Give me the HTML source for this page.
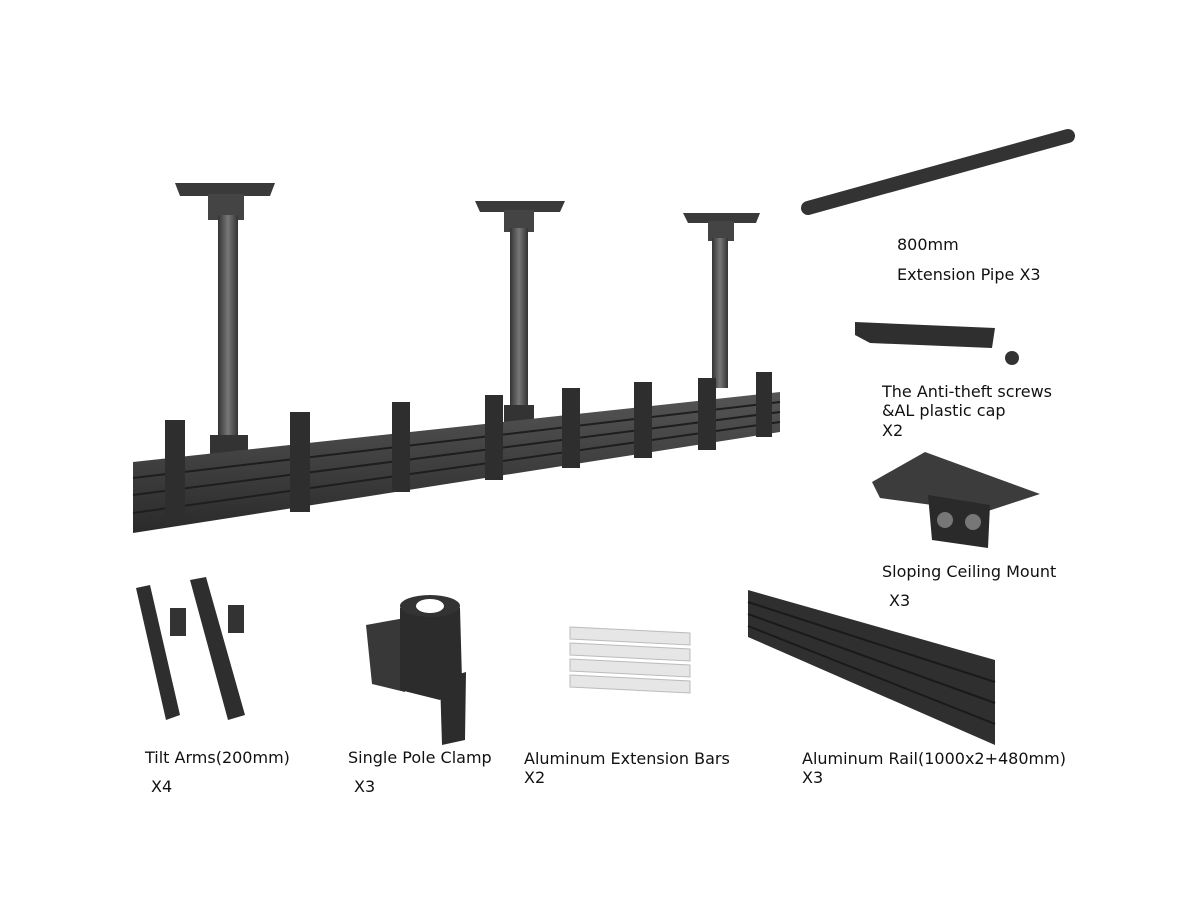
<!DOCTYPE html>
<html><head><meta charset="utf-8"><style>
html,body{margin:0;padding:0;background:#fff;width:1200px;height:900px;overflow:hidden}
svg text{font-family:"DejaVu Sans","Liberation Sans",sans-serif;font-size:16px;fill:#111}
</style></head><body>
<svg width="1200" height="900" viewBox="0 0 1200 900" xmlns="http://www.w3.org/2000/svg">
<defs>
<linearGradient id="g1" x1="0" y1="0" x2="0" y2="1"><stop offset="0" stop-color="#555"/><stop offset="1" stop-color="#2a2a2a"/></linearGradient>
<linearGradient id="gp" x1="0" y1="0" x2="1" y2="0"><stop offset="0" stop-color="#333"/><stop offset=".5" stop-color="#777"/><stop offset="1" stop-color="#333"/></linearGradient>
</defs>
<polygon points="175,183 275,183 270,196 180,196" fill="#3a3a3a"/>
<polygon points="475,201 565,201 560,212 480,212" fill="#3a3a3a"/>
<polygon points="683,213 760,213 756,223 688,223" fill="#3a3a3a"/>
<rect x="208" y="194" width="36" height="26" fill="#444"/>
<rect x="504" y="210" width="30" height="22" fill="#444"/>
<rect x="708" y="221" width="26" height="20" fill="#444"/>
<rect x="218" y="215" width="20" height="235" fill="url(#gp)"/>
<rect x="510" y="228" width="18" height="185" fill="url(#gp)"/>
<rect x="712" y="238" width="16" height="150" fill="url(#gp)"/>
<rect x="210" y="435" width="38" height="20" fill="#333"/>
<rect x="504" y="405" width="30" height="18" fill="#333"/>
<polygon points="133,462 780,392 780,432 133,533" fill="url(#g1)"/>
<g stroke="#1e1e1e" stroke-width="2">
<line x1="133" y1="478" x2="780" y2="402"/><line x1="133" y1="495" x2="780" y2="412"/><line x1="133" y1="513" x2="780" y2="422"/>
</g>
<g fill="#2e2e2e">
<rect x="165" y="420" width="20" height="105"/><rect x="290" y="412" width="20" height="100"/>
<rect x="392" y="402" width="18" height="90"/><rect x="485" y="395" width="18" height="85"/>
<rect x="562" y="388" width="18" height="80"/><rect x="634" y="382" width="18" height="76"/>
<rect x="698" y="378" width="18" height="72"/><rect x="756" y="372" width="16" height="65"/>
</g>
<line x1="808" y1="208" x2="1068" y2="136" stroke="#333" stroke-width="14" stroke-linecap="round"/>
<polygon points="855,322 995,328 992,348 870,343 855,335" fill="#2f2f2f"/>
<circle cx="1012" cy="358" r="7" fill="#333"/>
<polygon points="872,482 925,452 1040,494 985,512 880,498" fill="#3c3c3c"/>
<polygon points="928,495 990,505 988,548 932,540" fill="#2a2a2a"/>
<circle cx="945" cy="520" r="8" fill="#777"/><circle cx="973" cy="522" r="8" fill="#777"/>
<polygon points="136,588 150,585 180,715 166,720" fill="#2e2e2e"/>
<polygon points="190,580 206,577 245,715 228,720" fill="#2e2e2e"/>
<rect x="170" y="608" width="16" height="28" fill="#333"/><rect x="228" y="605" width="16" height="28" fill="#333"/>
<polygon points="366,625 405,618 405,692 372,684" fill="#383838"/>
<polygon points="400,608 460,608 462,680 440,700 400,690" fill="#2c2c2c"/>
<ellipse cx="430" cy="606" rx="30" ry="11" fill="#333"/>
<ellipse cx="430" cy="606" rx="14" ry="7" fill="#fff"/>
<polygon points="440,680 466,672 465,740 442,745" fill="#2c2c2c"/>
<g fill="#e6e6e6" stroke="#bbb">
<polygon points="570,627 690,633 690,645 570,639"/><polygon points="570,643 690,649 690,661 570,655"/>
<polygon points="570,659 690,665 690,677 570,671"/><polygon points="570,675 690,681 690,693 570,687"/>
</g>
<polygon points="748,590 995,660 995,745 748,637" fill="#2f2f2f"/>
<g stroke="#1a1a1a" stroke-width="2">
<line x1="748" y1="602" x2="995" y2="682"/><line x1="748" y1="614" x2="995" y2="703"/><line x1="748" y1="626" x2="995" y2="724"/>
</g>
<text x="897" y="250">800mm</text>
<text x="897" y="280">Extension Pipe X3</text>
<text x="882" y="397">The Anti-theft screws</text>
<text x="882" y="416">&amp;AL plastic cap</text>
<text x="882" y="436">X2</text>
<text x="882" y="577">Sloping Ceiling Mount</text>
<text x="889" y="606">X3</text>
<text x="145" y="763">Tilt Arms(200mm)</text>
<text x="151" y="792">X4</text>
<text x="348" y="763">Single Pole Clamp</text>
<text x="354" y="792">X3</text>
<text x="524" y="764">Aluminum Extension Bars</text>
<text x="524" y="783">X2</text>
<text x="802" y="764">Aluminum Rail(1000x2+480mm)</text>
<text x="802" y="783">X3</text>
</svg>
</body></html>
